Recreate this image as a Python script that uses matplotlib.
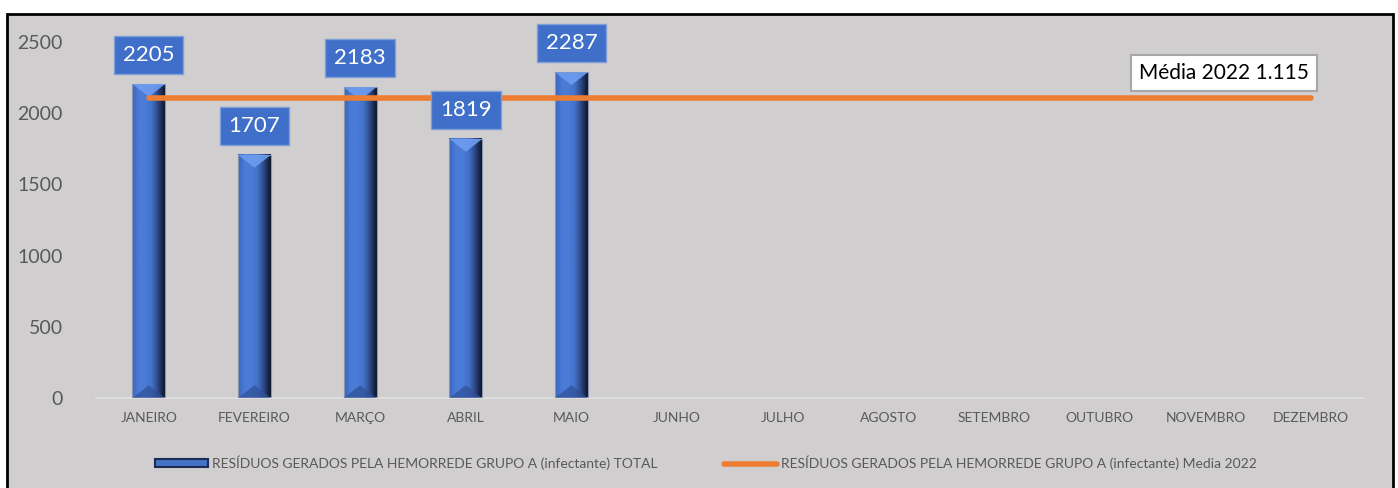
import matplotlib

matplotlib.use('Agg')
import matplotlib.pyplot as plt
import numpy as np
from matplotlib.colors import LinearSegmentedColormap
from matplotlib.patches import Rectangle, Polygon
from matplotlib.lines import Line2D

plt.rcParams['font.family'] = ['Lato', 'DejaVu Sans']

meses = ['JANEIRO', 'FEVEREIRO', 'MARÇO', 'ABRIL', 'MAIO', 'JUNHO', 'JULHO',
         'AGOSTO', 'SETEMBRO', 'OUTUBRO', 'NOVEMBRO', 'DEZEMBRO']
total = [2205, 1707, 2183, 1819, 2287]
media_2022 = [2110, 2110, 2110, 2110, 2110, 2110, 2110, 2110, 2110, 2110, 2110, 2110]
media_texto = 'Média 2022 1.115'
serie_total = 'RESÍDUOS GERADOS PELA HEMORREDE GRUPO A (infectante) TOTAL'
serie_media = 'RESÍDUOS GERADOS PELA HEMORREDE GRUPO A (infectante) Media 2022'

FUNDO = '#d0cece'
AZUL = '#4472c4'
LARANJA = '#ed7d31'
CINZA = '#595959'

fig = plt.figure(figsize=(13.98, 4.88), dpi=100, facecolor='white')
# moldura do gráfico
fig.patches.append(Rectangle((7 / 1398, -0.05), 1386 / 1398, 1.05 - 14 / 488,
                             transform=fig.transFigure, facecolor=FUNDO,
                             edgecolor='black', linewidth=2, zorder=-1))

ax = fig.add_axes([96 / 1398, 1 - 398 / 488, 1268 / 1398, 356 / 488])
ax.set_facecolor('none')

x = np.arange(len(meses))
largura = 0.31
grad = LinearSegmentedColormap.from_list(
    'barra', ['#3a66bf', '#4a7bd6', '#4a7bd6', '#4372c8', '#2c4683', '#0d1428'])

for i, v in enumerate(total):
    x0, x1 = x[i] - largura / 2, x[i] + largura / 2
    img = np.linspace(0, 1, 64).reshape(1, -1)
    ax.imshow(img, cmap=grad, extent=[x0, x1, 0, v], aspect='auto',
              zorder=2, interpolation='bilinear')
    ax.add_patch(Rectangle((x0, 0), largura, v, facecolor='none',
                           edgecolor='#8a96b0', linewidth=0.8, zorder=3))
    # chanfro superior e inferior
    ax.add_patch(Polygon([[x0, v], [x1, v], [x[i], v - 90]], closed=True,
                         facecolor='#6d9cf0', edgecolor='none', alpha=0.9, zorder=3))
    ax.add_patch(Polygon([[x0, 0], [x1, 0], [x[i], 90]], closed=True,
                         facecolor='#2f4f95', edgecolor='none', alpha=0.7, zorder=3))
    ax.text(x[i], v + 205, str(v), ha='center', va='center', fontsize=16,
            color='white', zorder=5,
            bbox=dict(boxstyle='square,pad=0.4', facecolor='#3f6fc8',
                      edgecolor='#7f9fd8', linewidth=1))

ax.plot(x, media_2022, color=LARANJA, linewidth=4, solid_capstyle='round', zorder=4)
ax.text(x[-1] - 0.02, 2282, media_texto, ha='right', va='center', fontsize=15,
        color='black', zorder=5,
        bbox=dict(boxstyle='square,pad=0.4', facecolor='white',
                  edgecolor='#a6a6a6', linewidth=1.5))

ax.set_xlim(-0.5, len(meses) - 0.5)
ax.set_ylim(0, 2500)
ax.set_xticks(x)
ax.set_xticklabels(meses, fontsize=10, color=CINZA)
ax.set_yticks([0, 500, 1000, 1500, 2000, 2500])
ax.tick_params(axis='y', labelsize=14, labelcolor=CINZA, length=0, pad=24)
ax.tick_params(axis='x', length=0, pad=10)
for lado in ['top', 'right', 'left']:
    ax.spines[lado].set_visible(False)
ax.spines['bottom'].set_color('#e2e2e2')
ax.spines['bottom'].set_linewidth(1.2)

handles = [Rectangle((0, 0), 1, 1, facecolor=AZUL, edgecolor='#1c2c55', linewidth=1.5),
           Line2D([0], [0], color=LARANJA, linewidth=4, solid_capstyle='round')]
fig.legend(handles, [serie_total, serie_media], loc='center',
           bbox_to_anchor=(0.505, 0.051), ncol=2, frameon=False, fontsize=10,
           labelcolor=CINZA, handlelength=3.8, handleheight=0.5,
           handletextpad=0.3, columnspacing=4.8)

fig.savefig('out.png', dpi=100, facecolor='white')
